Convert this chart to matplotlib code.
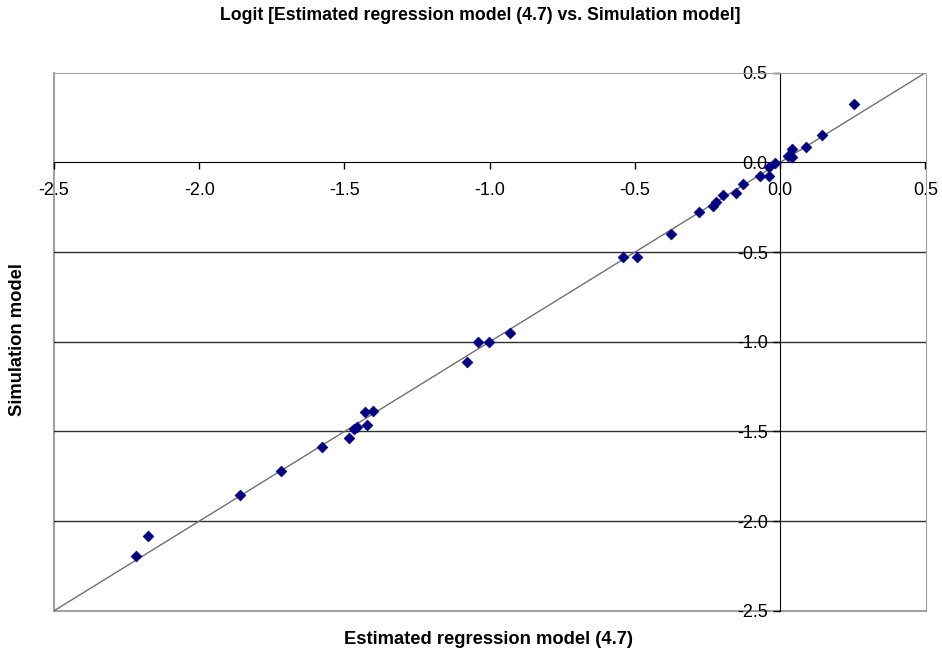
import matplotlib
matplotlib.use("Agg")
import matplotlib.pyplot as plt
import numpy as np

plt.rcParams['font.family'] = ['Liberation Sans', 'DejaVu Sans']

title = "Logit [Estimated regression model (4.7) vs. Simulation model]"
xlabel = "Estimated regression model (4.7)"
ylabel = "Simulation model"

estimated = [0.253, 0.144, 0.089, 0.042, 0.042, 0.025, -0.017, -0.040, -0.038,
             -0.068, -0.127, -0.151, -0.196, -0.222, -0.230, -0.278, -0.376,
             -0.493, -0.540, -0.932, -1.001, -1.040, -1.077, -1.403, -1.429,
             -1.424, -1.457, -1.466, -1.483, -1.577, -1.718, -1.859, -2.177,
             -2.218]
simulation = [0.323, 0.154, 0.085, 0.076, 0.030, 0.033, -0.006, -0.026, -0.078,
              -0.075, -0.123, -0.170, -0.184, -0.223, -0.242, -0.277, -0.402,
              -0.526, -0.530, -0.950, -1.002, -1.002, -1.114, -1.387, -1.391,
              -1.465, -1.476, -1.484, -1.534, -1.587, -1.718, -1.857, -2.084,
              -2.196]
ticks = [-2.5, -2.0, -1.5, -1.0, -0.5, 0.0, 0.5]
diag = [-2.5, 0.5]

fig = plt.figure(figsize=(9.42, 6.55), dpi=100)
ax = fig.add_axes([54/942, (655-610.8)/655, 871.5/942, 538.1/655])
ax.set_xlim(-2.5, 0.5)
ax.set_ylim(-2.5, 0.5)

# gridlines
for t in ticks[1:5]:
    ax.axhline(t, color='#303030', lw=1.0, zorder=1)

ax.plot(diag, diag, color='#707070', lw=1.0, zorder=2)
ax.scatter(estimated, simulation, marker='D', s=30, color='#000080',
           edgecolors='#000080', linewidths=0.5, zorder=3)

# axes crossing at zero
ax.spines['left'].set_position(('data', 0))
ax.spines['bottom'].set_position(('data', 0))
ax.spines['left'].set_color('black')
ax.spines['bottom'].set_color('black')
ax.spines['top'].set_color('#a0a0a0')
ax.spines['right'].set_color('#a0a0a0')
ax.spines['left'].set_zorder(2.5)
ax.spines['bottom'].set_zorder(2.5)
# gray plot-area border on the left/bottom
ax.plot([0, 0], [0, 1], transform=ax.transAxes, color='#a0a0a0', lw=1.5, clip_on=False, zorder=0)
ax.plot([0, 1], [0, 0], transform=ax.transAxes, color='#a0a0a0', lw=1.5, clip_on=False, zorder=0)

ax.set_xticks(ticks)
ax.set_yticks(ticks)
ax.set_xticklabels([f"{t:.1f}" for t in ticks])
ax.set_yticklabels([f"{t:.1f}" for t in ticks])
ax.tick_params(axis='x', direction='out', length=5, width=1, labelsize=13, pad=9)
ax.tick_params(axis='y', direction='out', length=5, width=1, labelsize=13, pad=4)

fig.text(480/942, 1 - 16/655, title, ha='center', va='center', fontsize=12.7, fontweight='bold')
fig.text(489/942, 1 - 640/655, xlabel, ha='center', va='center', fontsize=13.2, fontweight='bold')
fig.text(18/942, 1 - 340/655, ylabel, ha='center', va='center', rotation=90, fontsize=13.2, fontweight='bold')

fig.savefig("out.png", dpi=100)
